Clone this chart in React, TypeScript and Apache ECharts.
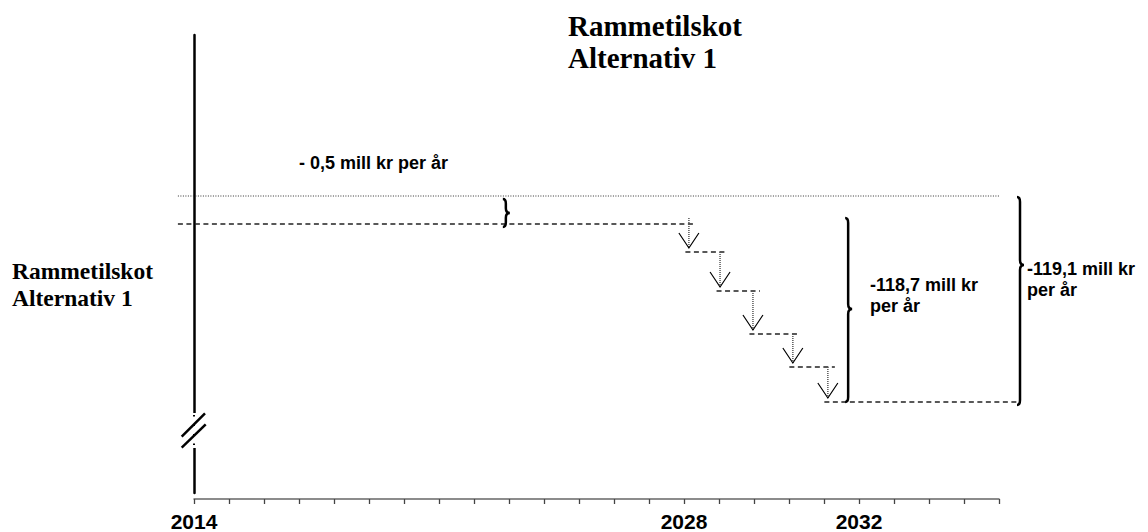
import React, { useEffect, useRef } from "react";
import * as echarts from "echarts";

// x positions are tick indices (24 ticks, 0..23)
const tickLabels = [
  "2014", "", "", "", "", "", "", "", "", "", "", "", "", "", "2028", "", "", "", "", "2032", "", "", "", "",
];
// schematic vertical values (0 = dotted reference level)
const referenceLevel = 0;
const stepPositions = [14.14, 15.03, 15.97, 17.11, 18.11];
const stepLevels = [-28, -56, -95, -138, -171, -206];
const arrowTops = [-22, -56, -95, -138, -171];
const lineStart = -0.46;
const dottedEnd = 23.0;
const dashedEnd = 23.5;
// braces: [x, top, bottom, tip]
const braces = [
  [8.91, -3, -31, -17],
  [18.69, -22, -206, -113],
  [23.6, -1, -209, -69],
];
const titleText = "Rammetilskot\nAlternativ 1";
const sideLabel = "Rammetilskot\nAlternativ 1";
const annotations = ["- 0,5 mill kr per år", "-118,7 mill kr\nper år", "-119,1 mill kr\nper år"];

const SANS = "'Liberation Sans', Arial, sans-serif";
const SERIF = "'Liberation Serif', 'Times New Roman', serif";

export default function App() {
  const ref = useRef<HTMLDivElement>(null);
  useEffect(() => {
    if (!ref.current) return;
    const chart = echarts.init(ref.current, undefined, { renderer: "svg" });

    // [x0, x1, level, dotted(1)/dashed(0)]
    const segments: number[][] = [[lineStart, dottedEnd, referenceLevel, 1]];
    for (let i = 0; i < stepLevels.length; i++) {
      const x0 = i === 0 ? lineStart : stepPositions[i - 1] - 0.1;
      const x1 = i === stepLevels.length - 1 ? dashedEnd : stepPositions[i] + 0.2;
      segments.push([x0, x1, stepLevels[i], 0]);
    }

    const arrowData = stepPositions.map((x, i) => [x, arrowTops[i], stepLevels[i + 1]]);

    const option: any = {
      animation: false,
      backgroundColor: "#fff",
      grid: { left: 194, right: 149, top: 35, bottom: 39 },
      xAxis: {
        type: "value",
        min: 0,
        max: 23,
        interval: 1,
        offset: 6,
        splitLine: { show: false },
        axisLine: { show: true, onZero: false, lineStyle: { color: "#666", width: 1.5 } },
        axisTick: { show: true, length: 5, lineStyle: { color: "#444", width: 1.3 } },
        axisLabel: {
          show: true,
          margin: 12,
          color: "#000",
          fontFamily: SANS,
          fontWeight: "bold",
          fontSize: 21,
          showMinLabel: true,
          showMaxLabel: true,
          formatter: (v: number) => tickLabels[Math.round(v)] ?? "",
        },
      },
      yAxis: {
        type: "value",
        min: -297,
        max: 161,
        splitLine: { show: false },
        axisTick: { show: false },
        axisLabel: { show: false },
        axisLine: { show: true, onZero: false, lineStyle: { color: "#000", width: 2.5 } },
      },
      series: [
        {
          type: "custom",
          clip: false,
          silent: true,
          data: segments,
          renderItem: (_p: any, api: any) => {
            const a = api.coord([api.value(0), api.value(2)]);
            const b = api.coord([api.value(1), api.value(2)]);
            const dotted = api.value(3) === 1;
            return {
              type: "line",
              shape: { x1: a[0], y1: a[1], x2: b[0], y2: b[1] },
              style: dotted
                ? { stroke: "#333", lineWidth: 1, lineDash: [1, 1.5] }
                : { stroke: "#222", lineWidth: 1.3, lineDash: [5, 3.5] },
            };
          },
        },
        {
          type: "custom",
          clip: false,
          silent: true,
          data: arrowData,
          renderItem: (_p: any, api: any) => {
            const p1 = api.coord([api.value(0), api.value(1)]);
            const p2 = api.coord([api.value(0), api.value(2)]);
            const tipY = p2[1] - 4;
            return {
              type: "group",
              children: [
                {
                  type: "line",
                  shape: { x1: p1[0], y1: p1[1], x2: p1[0], y2: tipY },
                  style: { stroke: "#555", lineWidth: 1.5, lineDash: [1, 1] },
                },
                {
                  type: "polyline",
                  shape: {
                    points: [
                      [p1[0] - 10, tipY - 15],
                      [p1[0], tipY],
                      [p1[0] + 10, tipY - 15],
                    ],
                  },
                  style: { stroke: "#000", lineWidth: 1.2, fill: "none" },
                },
              ],
            };
          },
        },
        {
          type: "custom",
          clip: false,
          silent: true,
          data: braces,
          renderItem: (_p: any, api: any) => {
            const a = api.coord([api.value(0), api.value(1)]);
            const b = api.coord([api.value(0), api.value(2)]);
            const m = api.coord([api.value(0), api.value(3)]);
            const x = a[0];
            const y1 = a[1];
            const y2 = b[1];
            const ym = m[1];
            const r = Math.min(5, (y2 - y1) / 6);
            const d =
              `M ${x - 3} ${y1} Q ${x} ${y1} ${x} ${y1 + r} L ${x} ${ym - r} ` +
              `Q ${x} ${ym} ${x + 4} ${ym} Q ${x} ${ym} ${x} ${ym + r} ` +
              `L ${x} ${y2 - r} Q ${x} ${y2} ${x - 3} ${y2}`;
            return {
              type: "path",
              shape: { pathData: d },
              style: { stroke: "#000", lineWidth: 2.5, fill: "none" },
            };
          },
        },
      ],
      graphic: [
        {
          type: "text",
          left: 568,
          top: 10,
          style: {
            text: titleText,
            font: `bold 29px ${SERIF}`,
            lineHeight: 32,
            fill: "#000",
          },
        },
        {
          type: "text",
          left: 12,
          top: 257,
          style: {
            text: sideLabel,
            font: `bold 23.5px ${SERIF}`,
            lineHeight: 27,
            fill: "#000",
          },
        },
        {
          type: "text",
          left: 299,
          top: 152,
          style: { text: annotations[0], font: `bold 18px ${SANS}`, lineHeight: 22, fill: "#000" },
        },
        {
          type: "text",
          left: 870,
          top: 274,
          style: { text: annotations[1], font: `bold 18px ${SANS}`, lineHeight: 21, fill: "#000" },
        },
        {
          type: "text",
          left: 1027,
          top: 258,
          style: { text: annotations[2], font: `bold 18px ${SANS}`, lineHeight: 21, fill: "#000" },
        },
        // axis break
        {
          type: "rect",
          shape: { x: 189, y: 413, width: 10, height: 35 },
          style: { fill: "#fff" },
          z: 100,
        },
        {
          type: "line",
          shape: { x1: 194, y1: 415, x2: 194, y2: 446 },
          style: { stroke: "#000", lineWidth: 2, lineDash: [1.5, 8] },
          z: 101,
        },
        {
          type: "line",
          shape: { x1: 181.7, y1: 436.7, x2: 205, y2: 413.3 },
          style: { stroke: "#000", lineWidth: 2.5 },
          z: 101,
        },
        {
          type: "line",
          shape: { x1: 181.7, y1: 447.7, x2: 205.7, y2: 424.3 },
          style: { stroke: "#000", lineWidth: 2.5 },
          z: 101,
        },
      ],
    };
    chart.setOption(option);
    return () => chart.dispose();
  }, []);
  return (
    <div
      ref={ref}
      style={{ position: "fixed", left: 0, top: 0, width: 1148, height: 532, background: "#fff" }}
    />
  );
}
